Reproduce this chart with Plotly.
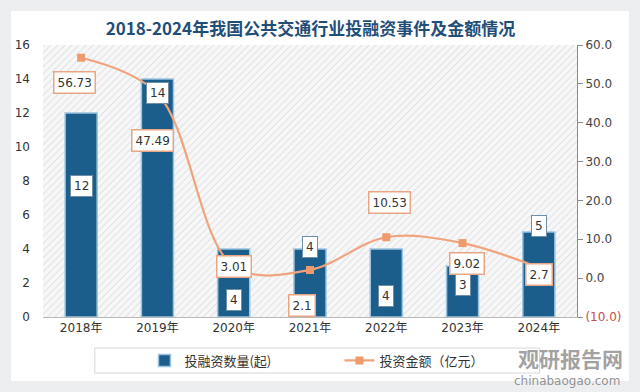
import base64
import plotly.graph_objects as go

# ---------------- data ----------------
years = ["2018年", "2019年", "2020年", "2021年", "2022年", "2023年", "2024年"]
deal_counts = [12, 14, 4, 4, 4, 3, 5]
amounts = [56.73, 47.49, 3.01, 2.1, 10.53, 9.02, 2.7]
amount_labels = ["56.73", "47.49", "3.01", "2.1", "10.53", "9.02", "2.7"]
right_tick_vals = [-10, 0, 10, 20, 30, 40, 50, 60]
right_tick_text = ["<span style='color:#c0504d'>(10.0)</span>", "0.0", "10.0", "20.0",
                   "30.0", "40.0", "50.0", "60.0"]

title_text = "2018-2024年我国公共交通行业投融资事件及金额情况"
bar_name = "投融资数量(起)"
line_name = "投资金额（亿元）"

# label offsets (pixels) – styling only
bar_label_yshift = [-73, -14, -51, 2, -47, -19, 6]
line_label_xshift = [-7, -5, 0, -8, 3, 4, 0]
line_label_yshift = [-25, -47, 0, -36, 35, -20, -7]

BAR_COLOR = "#1b5e8c"
LINE_COLOR = "#f0a37c"
NUM_FONT = "DejaVu Sans, Noto Sans CJK SC, sans-serif"
CJK_FONT = "Noto Sans CJK SC, DejaVu Sans, sans-serif"

fig = go.Figure()
fig.add_trace(go.Bar(
    x=years, y=deal_counts, name=bar_name, yaxis="y",
    marker=dict(color=BAR_COLOR, line=dict(color="#9cc3e0", width=1.5)),
    width=0.42,
))
fig.add_trace(go.Scatter(
    x=years, y=amounts, name=line_name, yaxis="y2", mode="lines+markers",
    line=dict(color=LINE_COLOR, width=2.2, shape="spline", smoothing=1.0),
    marker=dict(symbol="square", size=8, color="#ee9a6c"),
))

annotations = []
for x, v, ys in zip(years, deal_counts, bar_label_yshift):
    annotations.append(dict(
        x=x, y=v, xref="x", yref="y", text=str(v), showarrow=False, yshift=ys,
        font=dict(family=NUM_FONT, size=12, color="#333333"),
        bgcolor="white", bordercolor="#6f8ea8", borderwidth=1, borderpad=3,
    ))
for x, v, t, xs, ys in zip(years, amounts, amount_labels, line_label_xshift, line_label_yshift):
    annotations.append(dict(
        x=x, y=v, xref="x", yref="y2", text=t, showarrow=False, xshift=xs, yshift=ys,
        font=dict(family=NUM_FONT, size=12, color="#333333"),
        bgcolor="white", bordercolor="#e8a684", borderwidth=1.5, borderpad=3,
    ))
# watermark
annotations.append(dict(
    x=1.09, y=-0.15, xref="paper", yref="paper", xanchor="right", yanchor="middle",
    text="<b>观研报告网</b>", showarrow=False,
    font=dict(family=CJK_FONT, size=21, color="rgba(120,120,120,0.7)"),
))
annotations.append(dict(
    x=1.085, y=-0.235, xref="paper", yref="paper", xanchor="right", yanchor="middle",
    text="chinabaogao.com", showarrow=False,
    font=dict(family=NUM_FONT, size=12, color="rgba(120,120,120,0.8)"),
))

# hatched plot background as an svg image
svg = ("<svg xmlns='http://www.w3.org/2000/svg' width='534' height='272'>"
       "<defs><pattern id='h' width='5' height='5' patternUnits='userSpaceOnUse' "
       "patternTransform='rotate(45)'><rect width='5' height='5' fill='#f7f7f8'/>"
       "<line x1='0' y1='0' x2='0' y2='5' stroke='#dcdde0' stroke-width='1.6'/></pattern></defs>"
       "<rect width='534' height='272' fill='url(#h)'/></svg>")
src = "data:image/svg+xml;base64," + base64.b64encode(svg.encode()).decode()

PW, PH = 534.0, 272.0
shapes = [
    # grey frame round the white card
    dict(type="rect", xref="paper", yref="paper",
         x0=-43 / PW, x1=(640 - 43) / PW, y0=-75 / PH, y1=(272 + 45) / PH,
         fillcolor="rgba(0,0,0,0)", line=dict(color="#eceef0", width=22), layer="above"),
    # legend box
    dict(type="rect", xref="paper", yref="paper", x0=0.097, x1=0.93, y0=-0.206, y1=-0.114,
         fillcolor="rgba(0,0,0,0)", line=dict(color="#d6d6d6", width=1), layer="above"),
]

fig.update_layout(
    width=640, height=392,
    margin=dict(l=43, r=63, t=45, b=75),
    paper_bgcolor="white",
    plot_bgcolor="rgba(0,0,0,0)",
    title=dict(text="<b>" + title_text + "</b>", x=0.485, xanchor="center",
               y=1 - 29 / 392, yanchor="middle",
               font=dict(family=CJK_FONT, size=17, color="#1f4e79")),
    images=[dict(source=src, xref="paper", yref="paper", x=0, y=1, sizex=1, sizey=1,
                 xanchor="left", yanchor="top", sizing="stretch", layer="below")],
    xaxis=dict(type="category", showgrid=False, showline=True, linecolor="#b9b9b9",
               ticks="", tickfont=dict(family=NUM_FONT, size=12, color="#333333")),
    yaxis=dict(range=[0, 16], dtick=2, showgrid=False, zeroline=False, showline=False,
               ticks="", ticklabelstandoff=12,
               tickfont=dict(family=NUM_FONT, size=12, color="#333333")),
    yaxis2=dict(range=[-10, 60], overlaying="y", side="right", tickvals=right_tick_vals,
                ticktext=right_tick_text, showgrid=False, zeroline=False, showline=True,
                linecolor="#8a8a8a", ticks="outside", ticklen=5, tickcolor="#8a8a8a",
                tickfont=dict(family=NUM_FONT, size=12, color="#444444")),
    legend=dict(orientation="h", x=0.19, y=-0.16, xanchor="left", yanchor="middle",
                bgcolor="rgba(0,0,0,0)", entrywidth=150, entrywidthmode="pixels",
                font=dict(family=CJK_FONT, size=13, color="#333333")),
    annotations=annotations,
    shapes=shapes,
    showlegend=True,
)

fig.write_html("out.html", config={"displayModeBar": False},
               post_script="document.body.style.margin='0';")
